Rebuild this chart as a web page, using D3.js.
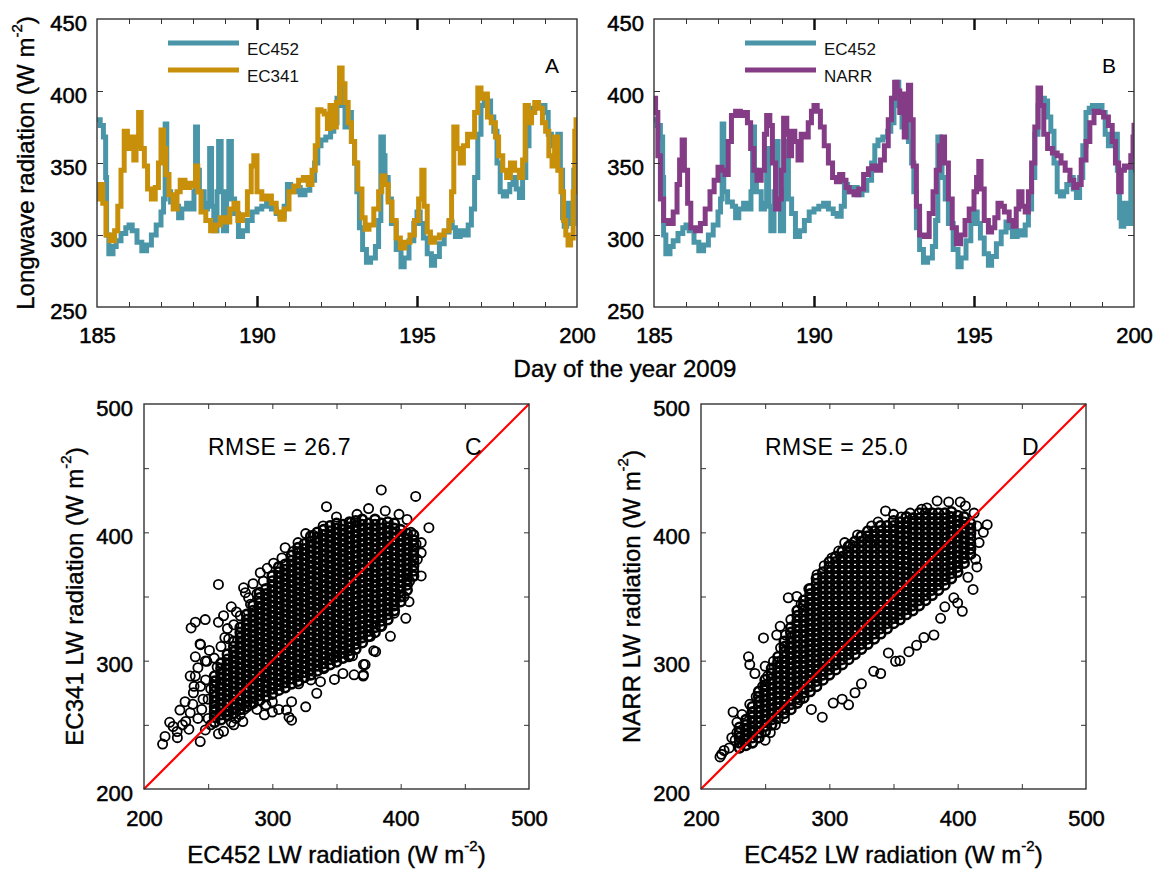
<!DOCTYPE html>
<html><head><meta charset="utf-8">
<script src="https://cdn.jsdelivr.net/npm/d3@7"></script>
<style>body{margin:0;background:#fff}svg text{font-family:"Liberation Sans",Arial,sans-serif}</style>
</head><body>
<svg id="chart" width="1154" height="871"></svg>
<script>
// ---------------- data ----------------
const dayTicks = [185, 190, 195, 200];
const dayMinor = [186,187,188,189,191,192,193,194,196,197,198,199];
const dayMajor = [190, 195];
const lwTicks = [250, 300, 350, 400, 450];
const lwInner = [300, 350, 400];
const scTicks = [200, 300, 400, 500];
const scMinor = [250, 300, 350, 400, 450];

// EC452 longwave (day, W m-2)
const ec452 = [[185.0,380],[185.1,376],[185.2,368],[185.27,340],[185.3,300],[185.37,287],[185.5,292],[185.6,296],[185.75,301],[185.9,305],[186.0,307],[186.1,303],[186.25,295],[186.4,289],[186.55,293],[186.7,300],[186.85,307],[187.0,316],[187.08,325],[187.13,377],[187.18,330],[187.3,323],[187.45,320],[187.55,312],[187.65,318],[187.8,322],[187.95,318],[188.03,330],[188.08,375],[188.14,345],[188.2,330],[188.35,318],[188.45,322],[188.52,360],[188.58,320],[188.65,303],[188.75,330],[188.8,365],[188.88,330],[188.95,303],[189.05,330],[189.12,365],[189.2,325],[189.3,315],[189.42,299],[189.55,303],[189.7,310],[189.85,316],[190.0,318],[190.15,320],[190.3,322],[190.45,318],[190.6,315],[190.72,313],[190.85,320],[190.95,335],[191.05,330],[191.2,333],[191.35,328],[191.5,331],[191.65,338],[191.8,350],[191.9,362],[192.0,366],[192.15,368],[192.3,372],[192.4,378],[192.5,395],[192.58,406],[192.65,390],[192.75,375],[192.85,385],[192.95,365],[193.05,350],[193.12,330],[193.2,305],[193.3,290],[193.42,281],[193.55,284],[193.7,292],[193.8,310],[193.87,368],[193.95,355],[194.0,340],[194.1,325],[194.2,308],[194.35,290],[194.5,278],[194.6,284],[194.75,296],[194.9,308],[195.0,316],[195.1,308],[195.2,298],[195.32,287],[195.45,279],[195.55,285],[195.7,294],[195.85,302],[196.0,309],[196.1,305],[196.2,299],[196.35,303],[196.5,300],[196.6,307],[196.7,318],[196.8,340],[196.9,370],[197.0,390],[197.1,395],[197.2,393],[197.3,382],[197.4,372],[197.5,350],[197.6,330],[197.7,327],[197.8,330],[197.9,335],[198.0,340],[198.1,332],[198.2,326],[198.3,340],[198.4,362],[198.5,385],[198.6,388],[198.7,390],[198.8,389],[198.9,390],[199.0,385],[199.1,370],[199.2,362],[199.3,366],[199.4,370],[199.48,345],[199.55,312],[199.6,306],[199.68,322],[199.75,318],[199.82,308],[199.9,345],[199.95,355],[200.0,362]];

const ec341 = [[185.0,325],[185.08,335],[185.18,322],[185.28,300],[185.4,296],[185.55,303],[185.65,320],[185.75,345],[185.85,372],[185.95,360],[186.05,368],[186.15,352],[186.22,362],[186.3,385],[186.38,360],[186.48,348],[186.58,332],[186.7,325],[186.82,333],[186.92,350],[187.0,373],[187.08,360],[187.15,342],[187.25,328],[187.38,318],[187.5,330],[187.6,338],[187.75,333],[187.9,336],[188.0,334],[188.08,348],[188.15,330],[188.25,316],[188.4,310],[188.55,303],[188.7,307],[188.85,312],[189.0,309],[189.15,318],[189.28,322],[189.4,310],[189.55,314],[189.7,330],[189.82,348],[189.9,355],[190.0,330],[190.15,325],[190.3,327],[190.45,322],[190.6,316],[190.72,311],[190.85,318],[191.0,330],[191.15,334],[191.3,338],[191.45,340],[191.6,335],[191.72,345],[191.82,362],[191.9,387],[192.0,386],[192.1,384],[192.2,374],[192.28,390],[192.38,375],[192.48,392],[192.58,416],[192.66,405],[192.75,392],[192.85,378],[192.95,365],[193.05,350],[193.15,332],[193.28,312],[193.38,304],[193.5,307],[193.65,318],[193.8,330],[193.9,341],[194.0,335],[194.1,323],[194.22,310],[194.35,298],[194.48,291],[194.62,295],[194.78,300],[194.92,310],[195.05,325],[195.15,345],[195.22,320],[195.32,302],[195.42,295],[195.55,298],[195.7,300],[195.85,303],[196.0,310],[196.08,330],[196.15,375],[196.25,360],[196.35,350],[196.45,362],[196.58,370],[196.7,368],[196.8,385],[196.9,402],[197.0,395],[197.1,398],[197.2,382],[197.32,378],[197.45,368],[197.55,355],[197.68,345],[197.8,340],[197.92,350],[198.05,345],[198.2,340],[198.3,352],[198.38,390],[198.48,378],[198.58,385],[198.68,392],[198.8,388],[198.92,378],[199.02,372],[199.12,355],[199.22,348],[199.3,368],[199.4,345],[199.5,330],[199.58,310],[199.65,300],[199.72,293],[199.8,298],[199.88,330],[199.93,372],[199.97,380],[200.0,375]];

const narr = [[185.0,395],[185.05,385],[185.12,355],[185.2,325],[185.3,310],[185.45,308],[185.6,316],[185.72,335],[185.8,352],[185.88,366],[185.95,345],[186.05,322],[186.15,305],[186.3,303],[186.45,308],[186.6,318],[186.75,330],[186.88,338],[187.0,347],[187.12,345],[187.22,342],[187.32,365],[187.42,383],[187.55,386],[187.7,383],[187.82,385],[187.92,378],[188.02,360],[188.12,345],[188.22,338],[188.35,345],[188.45,370],[188.52,383],[188.62,376],[188.7,350],[188.8,318],[188.9,325],[188.98,345],[189.05,381],[189.15,370],[189.22,355],[189.3,372],[189.4,365],[189.5,352],[189.6,370],[189.72,368],[189.82,378],[189.92,386],[190.0,390],[190.1,386],[190.2,375],[190.32,362],[190.45,350],[190.58,340],[190.7,337],[190.8,342],[190.9,338],[191.0,333],[191.1,330],[191.25,328],[191.4,332],[191.55,342],[191.7,346],[191.82,348],[191.95,345],[192.08,352],[192.2,362],[192.32,380],[192.42,395],[192.52,406],[192.6,400],[192.68,385],[192.75,398],[192.82,368],[192.88,390],[192.95,404],[193.02,380],[193.1,348],[193.2,320],[193.3,300],[193.45,299],[193.6,315],[193.72,330],[193.82,345],[193.92,362],[194.0,368],[194.08,350],[194.2,325],[194.32,305],[194.45,294],[194.58,300],[194.72,310],[194.85,318],[195.0,330],[195.08,340],[195.15,351],[195.22,332],[195.32,310],[195.45,302],[195.55,305],[195.65,312],[195.75,322],[195.85,320],[195.95,316],[196.1,310],[196.22,306],[196.32,318],[196.4,330],[196.5,320],[196.6,316],[196.7,330],[196.8,350],[196.9,375],[197.0,402],[197.08,390],[197.18,370],[197.3,360],[197.45,357],[197.6,355],[197.72,350],[197.85,345],[198.0,338],[198.12,333],[198.22,335],[198.35,352],[198.5,365],[198.62,378],[198.75,386],[198.9,385],[199.05,382],[199.2,376],[199.32,365],[199.42,350],[199.52,330],[199.6,345],[199.7,348],[199.8,347],[199.9,355],[199.97,368],[200.0,378]];

// Scatter C: EC452 (x) vs EC341 (y); dense core as columns [x, y1, y2, ...]
const coreC = [
[255,252,256,260,264,268,272,276,280,284,288],
[260,254,258,262,266,270,274,278,282,286,290,294,298],
[265,257,261,265,269,273,277,281,285,289,293,297,301,305],
[270,259,263,267,271,275,279,283,287,291,295,299,303,307,311,315],
[275,262,266,270,274,278,282,286,290,294,298,302,306,310,314,318,322,326],
[280,264,268,272,276,280,284,288,292,296,300,304,308,312,316,320,324,328,332,336],
[285,267,271,275,279,283,287,291,295,299,303,307,311,315,319,323,327,331,335,339,343],
[290,269,273,277,281,285,289,293,297,301,305,309,313,317,321,325,329,333,337,341,345,349,353],
[295,272,276,280,284,288,292,296,300,304,308,312,316,320,324,328,332,336,340,344,348,352,356],
[300,274,278,282,286,290,294,298,302,306,310,314,318,322,326,330,334,338,342,346,350,354,358,362,366],
[305,277,281,285,289,293,297,301,305,309,313,317,321,325,329,333,337,341,345,349,353,357,361,365,369,373],
[310,279,283,287,291,295,299,303,307,311,315,319,323,327,331,335,339,343,347,351,355,359,363,367,371,375],
[315,282,286,290,294,298,302,306,310,314,318,322,326,330,334,338,342,346,350,354,358,362,366,370,374,378,382],
[320,284,288,292,296,300,304,308,312,316,320,324,328,332,336,340,344,348,352,356,360,364,368,372,376,380,384,388],
[325,287,291,295,299,303,307,311,315,319,323,327,331,335,339,343,347,351,355,359,363,367,371,375,379,383,387,391],
[330,289,293,297,301,305,309,313,317,321,325,329,333,337,341,345,349,353,357,361,365,369,373,377,381,385,389,393,397],
[335,292,296,300,304,308,312,316,320,324,328,332,336,340,344,348,352,356,360,364,368,372,376,380,384,388,392,396,400],
[340,294,298,302,306,310,314,318,322,326,330,334,338,342,346,350,354,358,362,366,370,374,378,382,386,390,394,398,402],
[345,297,301,305,309,313,317,321,325,329,333,337,341,345,349,353,357,361,365,369,373,377,381,385,389,393,397,401,405],
[350,299,303,307,311,315,319,323,327,331,335,339,343,347,351,355,359,363,367,371,375,379,383,387,391,395,399,403,407],
[355,302,306,310,314,318,322,326,330,334,338,342,346,350,354,358,362,366,370,374,378,382,386,390,394,398,402,406],
[360,304,308,312,316,320,324,328,332,336,340,344,348,352,356,360,364,368,372,376,380,384,388,392,396,400,404,408],
[365,309,313,317,321,325,329,333,337,341,345,349,353,357,361,365,369,373,377,381,385,389,393,397,401,405,409],
[370,314,318,322,326,330,334,338,342,346,350,354,358,362,366,370,374,378,382,386,390,394,398,402,406,410],
[375,319,323,327,331,335,339,343,347,351,355,359,363,367,371,375,379,383,387,391,395,399,403,407],
[380,322,326,330,334,338,342,346,350,354,358,362,366,370,374,378,382,386,390,394,398,402,406,410],
[385,327,331,335,339,343,347,351,355,359,363,367,371,375,379,383,387,391,395,399,403,407],
[390,332,336,340,344,348,352,356,360,364,368,372,376,380,384,388,392,396,400,404,408],
[395,339,343,347,351,355,359,363,367,371,375,379,383,387,391,395,399,403,407],
[400,346,350,354,358,362,366,370,374,378,382,386,390,394,398,402],
[405,355,359,363,367,371,375,379,383,387,391,395,399],
[410,366,370,374,378,382,386,390,394,398]
];
const outerC = [[214.5,235],[216.4,241],[222.7,248.7],[225.8,244.8],[232.5,252.6],[235,246.6],[243.8,237],[247.8,246],[228,261.5],[236,259.4],[238.5,275],[239,280],[240,288],[242,294.5],[247.8,299.7],[243.7,313],[254.7,302],[260,311],[266,317],[256,284],[266,260],[271.6,255],[277,252.6],[282.8,265.6],[293.8,257.8],[295,265.6],[284,282],[291,285],[311,261.5],[313,256],[315,253.6],[326,264],[320.5,282],[334.6,274.6],[337.5,283.6],[348.4,285.4],[363.7,289],[370.8,288],[372.3,297],[379,307.7],[362.5,303.8],[348,302.6],[384.9,433],[411.7,428],[342.2,420],[258,359.4],[422,403.6],[416,392],[416,384],[416,366],[404,333],[392,319],[380.5,307],[371,297],[371,289],[359.6,303],[236.7,325.5],[240,330],[247.7,332],[244,312.5],[240,303],[249,299.5],[258,330],[277.6,356.8],[279,353],[281.5,349],[290.6,368.5],[301,376],[307.5,380],[316,385],[326,399],[332,397.7],[339.6,405],[361.5,407.6],[375,418.5],[388,416.7],[398.7,414],[405,410],[408,400],[412,391],[413,379],[410,374],[407,362],[402.6,350],[406.5,346],[395,337],[384,327],[376.5,319],[250,270],[255,262],[262,335],[268,342],[272,338],[285,360],[293,362],[296,372],[310,388],[320,392],[350,412],[366,414],[355,290],[340,295],[330,285],[300,268],[305,262],[288,262],[270,250],[262,245],[250,255],[245,262],[230,250],[220,252],[226,240],[242,255],[300,260],[315,268],[265,325],[252,278],[248,285],[257,295],[251,308],[263,318],[270,328],[275,335],[283,344],[288,352],[246,270],[252,250],[258,243],[275,258],[278,262],[268,252],[238,266],[244,280],[232,268],[236,288]];

// Scatter D: EC452 (x) vs NARR (y)
const coreD = [
[230,232,236,240,244,248],
[235,234,238,242,246,250,254],
[240,236,240,244,248,252,256,260,264],
[245,240,244,248,252,256,260,264,268,272,276],
[250,245,249,253,257,261,265,269,273,277,281,285],
[255,250,254,258,262,266,270,274,278,282,286,290,294],
[260,255,259,263,267,271,275,279,283,287,291,295,299,303],
[265,259,263,267,271,275,279,283,287,291,295,299,303,307,311,315],
[270,262,266,270,274,278,282,286,290,294,298,302,306,310,314,318,322,326],
[275,267,271,275,279,283,287,291,295,299,303,307,311,315,319,323,327,331,335,339],
[280,271,275,279,283,287,291,295,299,303,307,311,315,319,323,327,331,335,339,343,347],
[285,276,280,284,288,292,296,300,304,308,312,316,320,324,328,332,336,340,344,348,352,356],
[290,280,284,288,292,296,300,304,308,312,316,320,324,328,332,336,340,344,348,352,356,360,364],
[295,285,289,293,297,301,305,309,313,317,321,325,329,333,337,341,345,349,353,357,361,365,369],
[300,289,293,297,301,305,309,313,317,321,325,329,333,337,341,345,349,353,357,361,365,369,373,377],
[305,293,297,301,305,309,313,317,321,325,329,333,337,341,345,349,353,357,361,365,369,373,377,381],
[310,297,301,305,309,313,317,321,325,329,333,337,341,345,349,353,357,361,365,369,373,377,381,385],
[315,301,305,309,313,317,321,325,329,333,337,341,345,349,353,357,361,365,369,373,377,381,385,389],
[320,305,309,313,317,321,325,329,333,337,341,345,349,353,357,361,365,369,373,377,381,385,389,393],
[325,309,313,317,321,325,329,333,337,341,345,349,353,357,361,365,369,373,377,381,385,389,393,397],
[330,313,317,321,325,329,333,337,341,345,349,353,357,361,365,369,373,377,381,385,389,393,397,401],
[335,317,321,325,329,333,337,341,345,349,353,357,361,365,369,373,377,381,385,389,393,397,401],
[340,321,325,329,333,337,341,345,349,353,357,361,365,369,373,377,381,385,389,393,397,401,405],
[345,325,329,333,337,341,345,349,353,357,361,365,369,373,377,381,385,389,393,397,401,405],
[350,329,333,337,341,345,349,353,357,361,365,369,373,377,381,385,389,393,397,401,405,409],
[355,332,336,340,344,348,352,356,360,364,368,372,376,380,384,388,392,396,400,404,408],
[360,336,340,344,348,352,356,360,364,368,372,376,380,384,388,392,396,400,404,408,412],
[365,339,343,347,351,355,359,363,367,371,375,379,383,387,391,395,399,403,407,411],
[370,343,347,351,355,359,363,367,371,375,379,383,387,391,395,399,403,407,411,415],
[375,347,351,355,359,363,367,371,375,379,383,387,391,395,399,403,407,411,415],
[380,351,355,359,363,367,371,375,379,383,387,391,395,399,403,407,411,415],
[385,355,359,363,367,371,375,379,383,387,391,395,399,403,407,411,415],
[390,359,363,367,371,375,379,383,387,391,395,399,403,407,411,415],
[395,364,368,372,376,380,384,388,392,396,400,404,408,412,416],
[400,369,373,377,381,385,389,393,397,401,405,409,413],
[405,376,380,384,388,392,396,400,404,408,412],
[410,383,387,391,395,399,403,407]
];
const outerD = [[384,424.5],[393,423.7],[402,423.7],[406,420.6],[343.8,416.7],[350,414],[363,415],[376,419],[412.8,415],[423,406],[415,405],[416.7,392],[414,379],[415,373],[412,355.5],[403.6,338.5],[397,349],[386.7,333],[381.5,320],[373.7,318],[362,307],[351.6,299.5],[346,306],[334.6,291.7],[332,392],[333,405],[316.4,390.6],[307.3,385.4],[290.4,367],[274.7,350],[268,349],[261.7,326.8],[259,320],[248.7,317.7],[237,303],[238,297],[250,295.6],[256.5,299.5],[214.8,225],[216,227],[218,230],[222,232],[224,240],[226.6,238],[228,244],[232,236],[236,242],[240,246],[245,240],[250,238],[254,244],[258,250],[265,255],[277,269.5],[286,262],[294.5,256],[303,267],[310,270],[315,265.6],[320,275],[325,282],[340,290],[355,300],[368,312],[390,342],[400,345],[408,365],[420,400],[228,252],[232,258],[238,266],[243,272],[248,280],[252,288],[242,290],[225,260],[262,310],[266,320],[270,332],[278,344],[284,356],[296,374],[302,380],[312,392],[322,398],[338,408],[356,412],[372,418]];

// ---------------- drawing ----------------
const svg = d3.select("#chart");
svg.append("rect").attr("width",1154).attr("height",871).attr("fill","#fff");
const FR = "#333";
const COL = {ec452:"#4a96a8", ec341:"#c8900a", narr:"#843c86"};

function styleLabels(sel, size){
  sel.selectAll("text").attr("font-size",size).attr("fill","#000")
     .attr("stroke","#000").attr("stroke-width",0.5)
     .attr("font-family",'"Liberation Sans",Arial,sans-serif');
}
function tickAxis(g, axis){ g.call(axis); g.select(".domain").remove(); g.selectAll("line").attr("stroke",FR); }

function tsPanel(L, series, legX, letter){
  const T=19, B=307, W=480;
  const x = d3.scaleLinear([185,200],[L,L+W]);
  const y = d3.scaleLinear([250,450],[B,T]);
  const g = svg.append("g");
  const cid = "clip"+letter;
  svg.append("clipPath").attr("id",cid).append("rect").attr("x",L).attr("y",T).attr("width",W).attr("height",B-T);
  const line = d3.line().curve(d3.curveStepAfter).x(d=>x(d[0])).y(d=>y(d[1]));
  series.forEach(s=>{
    g.append("path").datum(s.data).attr("d",line).attr("fill","none")
     .attr("stroke",s.color).attr("stroke-width",5).attr("stroke-linejoin","miter")
     .attr("clip-path",`url(#${cid})`);
  });
  g.append("rect").attr("x",L).attr("y",T).attr("width",W).attr("height",B-T)
   .attr("fill","none").attr("stroke",FR).attr("stroke-width",1.4);
  tickAxis(g.append("g").attr("transform",`translate(0,${B})`), d3.axisBottom(x).tickValues(dayMinor).tickSize(-5).tickFormat(""));
  tickAxis(g.append("g").attr("transform",`translate(0,${T})`), d3.axisTop(x).tickValues(dayMinor).tickSize(-5).tickFormat(""));
  const mb = g.append("g").attr("transform",`translate(0,${B})`);
  tickAxis(mb, d3.axisBottom(x).tickValues(dayMajor).tickSize(-11).tickFormat(""));
  mb.selectAll("line").attr("stroke-width",2.5).attr("stroke","#111");
  const mt = g.append("g").attr("transform",`translate(0,${T})`);
  tickAxis(mt, d3.axisTop(x).tickValues(dayMajor).tickSize(-11).tickFormat(""));
  mt.selectAll("line").attr("stroke-width",2.5).attr("stroke","#111");
  tickAxis(g.append("g").attr("transform",`translate(${L},0)`), d3.axisLeft(y).tickValues(lwInner).tickSize(-6).tickFormat(""));
  tickAxis(g.append("g").attr("transform",`translate(${L+W},0)`), d3.axisRight(y).tickValues(lwInner).tickSize(-6).tickFormat(""));
  const xl = g.append("g").attr("transform",`translate(0,${B})`);
  xl.call(d3.axisBottom(x).tickValues(dayTicks).tickSize(0).tickFormat(d3.format("d")));
  xl.select(".domain").remove();
  xl.selectAll("text").attr("y",36).attr("dy",null);
  styleLabels(xl,22);
  const yl = g.append("g").attr("transform",`translate(${L},0)`);
  yl.call(d3.axisLeft(y).tickValues(lwTicks).tickSize(0).tickFormat(d3.format("d")));
  yl.select(".domain").remove();
  yl.selectAll("text").attr("x",-10).attr("dy",11);
  styleLabels(yl,22);
  series.forEach((s,i)=>{
    const ly = [43,70][i];
    g.append("line").attr("x1",legX).attr("x2",legX+71).attr("y1",ly).attr("y2",ly)
     .attr("stroke",s.color).attr("stroke-width",5);
    g.append("text").attr("x",legX+79).attr("y",ly+12).attr("font-size",17).attr("fill","#111").text(s.name);
  });
  g.append("text").attr("x",L+W-32).attr("y",73).attr("font-size",21).attr("fill","#000").text(letter);
}

tsPanel(97, [{data:ec452,color:COL.ec452,name:"EC452"},{data:ec341,color:COL.ec341,name:"EC341"}], 168, "A");
tsPanel(654, [{data:ec452,color:COL.ec452,name:"EC452"},{data:narr,color:COL.narr,name:"NARR"}], 745, "B");

function supTitle(sel, main, tail){
  sel.attr("stroke","#000").attr("stroke-width",0.4);
  sel.append("tspan").text(main);
  sel.append("tspan").attr("font-size",15).attr("dy",-12).text("-2");
  sel.append("tspan").attr("dy",12).text(tail);
}
supTitle(svg.append("text").attr("transform","translate(34,163) rotate(-90)").attr("text-anchor","middle")
  .attr("font-size",24).attr("fill","#000"), "Longwave radiation (W m", ")");
svg.append("text").attr("x",625).attr("y",377).attr("text-anchor","middle").attr("font-size",24)
  .attr("fill","#000").attr("stroke","#000").attr("stroke-width",0.4).text("Day of the year 2009");

function scatterPanel(L, core, outer, ylab, rmse, letter){
  const T=404, S=385;
  const x = d3.scaleLinear([200,500],[L,L+S]);
  const y = d3.scaleLinear([200,500],[T+S,T]);
  const g = svg.append("g");
  const corePts = [];
  core.forEach(c=>{ for(let i=1;i<c.length;i++) corePts.push([c[0],c[i]]); });
  g.append("g").selectAll("circle").data(corePts).join("circle")
   .attr("cx",d=>x(d[0])).attr("cy",d=>y(d[1])).attr("r",4.6)
   .attr("fill","none").attr("stroke","#000").attr("stroke-width",2.6);
  g.append("g").selectAll("circle").data(outer).join("circle")
   .attr("cx",d=>x(d[0])).attr("cy",d=>y(d[1])).attr("r",4.6)
   .attr("fill","none").attr("stroke","#000").attr("stroke-width",1.8);
  g.append("line").attr("x1",x(200)).attr("y1",y(200)).attr("x2",x(500)).attr("y2",y(500))
   .attr("stroke","#ff0000").attr("stroke-width",2.2);
  g.append("rect").attr("x",L).attr("y",T).attr("width",S).attr("height",S)
   .attr("fill","none").attr("stroke",FR).attr("stroke-width",1.4);
  tickAxis(g.append("g").attr("transform",`translate(0,${T+S})`), d3.axisBottom(x).tickValues(scMinor).tickSize(-5).tickFormat(""));
  tickAxis(g.append("g").attr("transform",`translate(0,${T})`), d3.axisTop(x).tickValues(scMinor).tickSize(-5).tickFormat(""));
  tickAxis(g.append("g").attr("transform",`translate(${L},0)`), d3.axisLeft(y).tickValues(scMinor).tickSize(-5).tickFormat(""));
  tickAxis(g.append("g").attr("transform",`translate(${L+S},0)`), d3.axisRight(y).tickValues(scMinor).tickSize(-5).tickFormat(""));
  const xl = g.append("g").attr("transform",`translate(0,${T+S})`);
  xl.call(d3.axisBottom(x).tickValues(scTicks).tickSize(0).tickFormat(d3.format("d")));
  xl.select(".domain").remove();
  xl.selectAll("text").attr("y",37).attr("dy",null);
  styleLabels(xl,22);
  const yl = g.append("g").attr("transform",`translate(${L},0)`);
  yl.call(d3.axisLeft(y).tickValues(scTicks).tickSize(0).tickFormat(d3.format("d")));
  yl.select(".domain").remove();
  yl.selectAll("text").attr("x",-11).attr("dy",11);
  styleLabels(yl,22);
  g.append("text").attr("x",L+64).attr("y",T+51).attr("font-size",23).attr("letter-spacing",0.5)
   .attr("fill","#000").text("RMSE = "+rmse);
  g.append("text").attr("x",L+321).attr("y",T+51).attr("font-size",23).attr("fill","#000").text(letter);
  supTitle(g.append("text").attr("x",L+S/2).attr("y",863).attr("text-anchor","middle")
    .attr("font-size",24).attr("fill","#000"), "EC452 LW radiation (W m", ")");
  supTitle(g.append("text").attr("transform",`translate(${L-61},${T+S/2}) rotate(-90)`).attr("text-anchor","middle")
    .attr("font-size",24).attr("fill","#000"), ylab+" LW radiation (W m", ")");
}
scatterPanel(144, coreC, outerC, "EC341", "26.7", "C");
scatterPanel(701, coreD, outerD, "NARR", "25.0", "D");
</script>
</body></html>
